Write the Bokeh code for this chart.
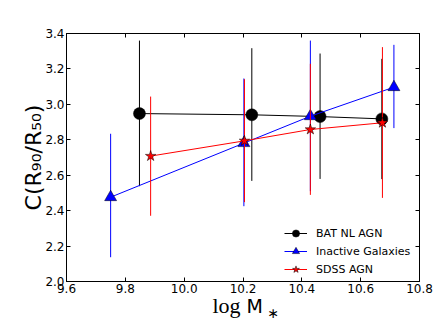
from bokeh.plotting import figure
from bokeh.models import Range1d, FixedTicker, LinearAxis, Label, Legend, LegendItem
from bokeh.embed import file_html
from bokeh.resources import INLINE

# ---- data ----
x_ticks = [9.6, 9.8, 10.0, 10.2, 10.4, 10.6, 10.8]
x_tick_labels = ["9.6", "9.8", "10.0", "10.2", "10.4", "10.6", "10.8"]
y_ticks = [2.0, 2.2, 2.4, 2.6, 2.8, 3.0, 3.2, 3.4]
y_tick_labels = ["2.0", "2.2", "2.4", "2.6", "2.8", "3.0", "3.2", "3.4"]

bat_x = [9.848, 10.230, 10.462, 10.672]
bat_y = [2.948, 2.941, 2.931, 2.918]
bat_lo = [2.538, 2.568, 2.579, 2.578]
bat_hi = [3.360, 3.317, 3.287, 3.257]

inact_x = [9.750, 10.203, 10.429, 10.713]
inact_y = [2.476, 2.781, 2.933, 3.097]
inact_lo = [2.137, 2.425, 2.510, 2.866]
inact_hi = [2.834, 3.146, 3.360, 3.336]

sdss_x = [9.886, 10.205, 10.429, 10.674]
sdss_y = [2.708, 2.794, 2.858, 2.896]
sdss_lo = [2.371, 2.448, 2.489, 2.472]
sdss_hi = [3.044, 3.142, 3.229, 3.323]

labels = ["BAT NL AGN", "Inactive Galaxies", "SDSS AGN"]

FONT = "DejaVu Sans"

p = figure(frame_width=353, frame_height=248,
           x_range=Range1d(9.6, 10.8), y_range=Range1d(2.0, 3.4),
           output_backend="svg", toolbar_location=None,
           min_border_left=66, min_border_top=33, min_border_right=15, min_border_bottom=45)
p.background_fill_color = "white"
p.border_fill_color = "white"
p.outline_line_color = "black"
p.outline_line_width = 1
p.xgrid.visible = False
p.ygrid.visible = False

def style_axis(ax, ticks, tick_labels, show):
    ax.ticker = FixedTicker(ticks=ticks)
    ax.major_tick_in = 4
    ax.major_tick_out = 0
    ax.minor_tick_in = 0
    ax.minor_tick_out = 0
    ax.major_tick_line_color = "black"
    ax.axis_line_color = "black"
    ax.major_label_text_font = FONT
    ax.major_label_text_font_size = "12px"
    ax.major_label_text_color = "black"
    if show:
        ax.major_label_overrides = {t: l for t, l in zip(ticks, tick_labels)}
    else:
        ax.major_label_overrides = {t: "" for t in ticks}
        ax.major_label_standoff = 0

style_axis(p.xaxis[0], x_ticks, x_tick_labels, True)
style_axis(p.yaxis[0], y_ticks, y_tick_labels, True)
p.xaxis[0].major_label_standoff = 2
p.yaxis[0].major_label_standoff = 2

top = LinearAxis()
right = LinearAxis()
p.add_layout(top, "above")
p.add_layout(right, "right")
style_axis(top, x_ticks, x_tick_labels, False)
style_axis(right, y_ticks, y_tick_labels, False)

p.yaxis[0].axis_label = "C(R\u2089\u2080/R\u2085\u2080)"
p.yaxis[0].axis_label_text_font = FONT
p.yaxis[0].axis_label_text_font_size = "22px"
p.yaxis[0].axis_label_text_font_style = "normal"
p.yaxis[0].axis_label_text_color = "black"
p.yaxis[0].axis_label_standoff = -4

# x axis label composed of pieces, placed in the bottom panel
p.add_layout(Label(x=10.2, y=2.0, x_offset=-30.5, y_offset=-24, text="log",
                   text_font="Liberation Serif", text_font_size="22px",
                   text_align="left", text_baseline="alphabetic", text_color="black"), "below")
p.add_layout(Label(x=10.2, y=2.0, x_offset=3.5, y_offset=-24, text="M",
                   text_font=FONT, text_font_size="19px",
                   text_align="left", text_baseline="alphabetic", text_color="black"), "below")
p.add_layout(Label(x=10.2, y=2.0, x_offset=24.5, y_offset=-31, text="\u2217",
                   text_font=FONT, text_font_size="14px",
                   text_align="left", text_baseline="alphabetic", text_color="black"), "below")

items = []
series = [
    (bat_x, bat_y, bat_lo, bat_hi, "black", "circle", 12, "black"),
    (inact_x, inact_y, inact_lo, inact_hi, "blue", "triangle", 12, "black"),
    (sdss_x, sdss_y, sdss_lo, sdss_hi, "red", "star", 11, "black"),
]
for (xs, ys, lo, hi, col, mk, sz, edge), lab in zip(series, labels):
    p.segment(x0=xs, y0=lo, x1=xs, y1=hi, line_color=col, line_width=1)
    ln = p.line(xs, ys, line_color=col, line_width=1)
    sc = p.scatter(xs, ys, marker=mk, size=sz, fill_color=col, line_color=edge, line_width=0.5)
    items.append(LegendItem(label=lab, renderers=[ln, sc]))

legend = Legend(items=items, location=(218, 3), padding=0, margin=0, spacing=0,
                glyph_width=23, glyph_height=18, label_height=18, label_standoff=9,
                label_text_font=FONT, label_text_font_size="11px", label_text_color="black",
                background_fill_alpha=0, border_line_alpha=0)
p.add_layout(legend, "center")

open("out.html", "w").write(file_html(p, INLINE))
